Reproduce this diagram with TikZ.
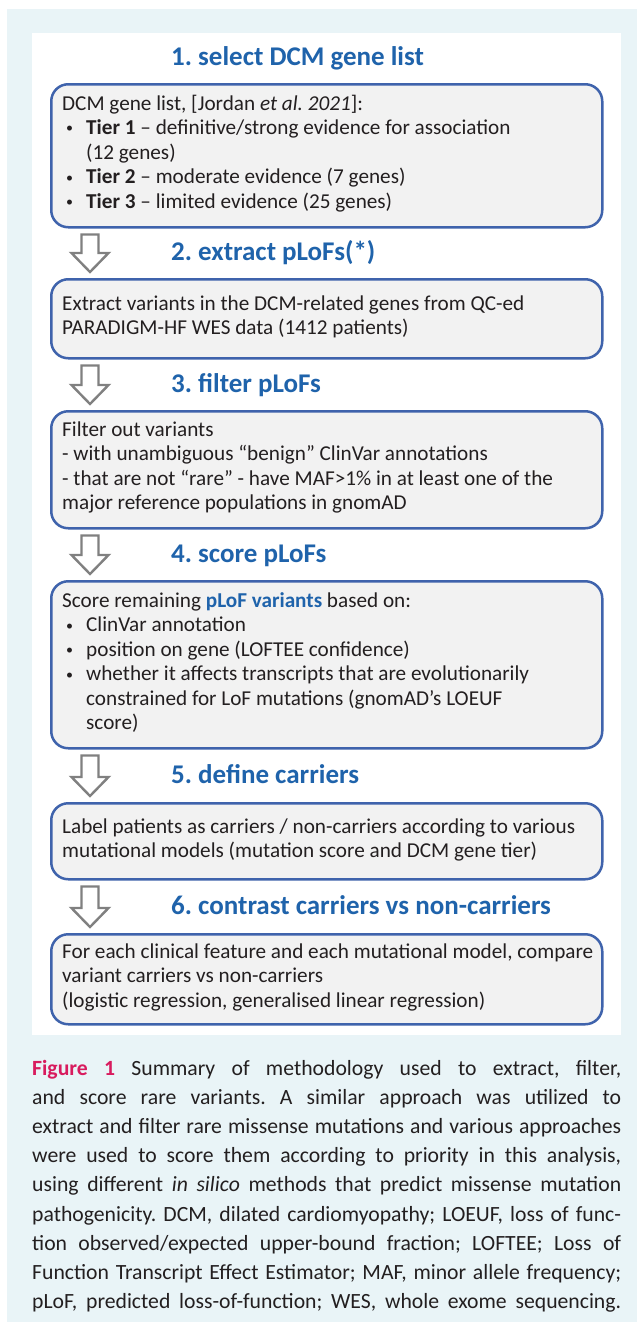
\documentclass[tikz,border=0pt]{standalone}
\usepackage{fontspec}
\setmainfont{Carlito}
\usetikzlibrary{calc}

\definecolor{panelbg}{HTML}{E9F4F7}
\definecolor{titleblue}{HTML}{1F63AB}
\definecolor{boxline}{HTML}{3F63AC}
\definecolor{boxfill}{HTML}{F2F2F2}
\definecolor{arrowgray}{HTML}{808080}
\definecolor{figpink}{HTML}{D81B5E}
\definecolor{inktext}{HTML}{231F20}

\frenchspacing
% body text of the step boxes
\newcommand\bodyfont{\fontsize{21.2}{24.5}\selectfont}
\newcommand\blt{\makebox[24pt][l]{\hspace{4pt}\raisebox{1.5pt}{\fontsize{14}{14}\selectfont •}}}
\newcommand\hangin{\hspace*{24pt}}
\newcommand\stepbody[1]{\parbox[t]{560pt}{\raggedright\bodyfont #1}}
% one fully justified caption line
\newcommand\capline[1]{\makebox[589pt][s]{#1}}
% hollow block arrow between two coordinates (top of shaft, tip)
\newcommand\blockdown[2]{%
  \draw[blockarrow] let \p1=(#1), \p2=(#2) in
    (\x1-8.5pt,\y1) -- (\x1+8.5pt,\y1) -- (\x1+8.5pt,\y2+19pt) --
    (\x1+18.5pt,\y2+19pt) -- (\x2,\y2) -- (\x1-18.5pt,\y2+19pt) --
    (\x1-8.5pt,\y2+19pt) -- cycle;}

\tikzset{
  stepbox/.style={draw=boxline, line width=2.5pt, fill=boxfill,
    rounded corners=17pt, inner sep=0pt, anchor=north west,
    minimum width=551pt},
  steptitle/.style={text=titleblue, font=\fontsize{27}{30}\selectfont\bfseries,
    anchor=base west, inner sep=0pt},
  steptext/.style={anchor=base west, inner sep=0pt, text=inktext},
  blockarrow/.style={draw=arrowgray, line width=2.4pt, fill=white,
    line join=miter},
}

\begin{document}
\begin{tikzpicture}[x=1pt, y=-1pt]
\useasboundingbox (0,0) rectangle (637,1322);

% backgrounds
\fill[white] (0,0) rectangle (637,1322);
\fill[panelbg] (7,9) rectangle (637,1322);
\fill[white] (32,33) rectangle (621,1035);

% step boxes
\node[stepbox, minimum height=143pt] (b1) at (50,83) {};
\node[stepbox, minimum height=79pt]  (b2) at (50,278) {};
\node[stepbox, minimum height=117pt] (b3) at (50,410) {};
\node[stepbox, minimum height=167pt] (b4) at (50,580) {};
\node[stepbox, minimum height=76pt]  (b5) at (50,802) {};
\node[stepbox, minimum height=90pt]  (b6) at (50,933) {};

% step titles
\node[steptitle] (h1) at (171,66)  {1. select DCM gene list};
\node[steptitle] (h2) at (171,260.5) {2. extract pLoFs(*)};
\node[steptitle] (h3) at (171,392) {3. filter pLoFs};
\node[steptitle] (h4) at (171,562) {4. score pLoFs};
\node[steptitle] (h5) at (171,783) {5. define carriers};
\node[steptitle] (h6) at (171,914) {6. contrast carriers vs non-carriers};

% step contents
\node[steptext] (t1) at (62,110) {\stepbody{%
  DCM gene list, [Jordan \textit{et al. 2021}]:\\
  \blt\textbf{Tier 1} – definitive/strong evidence for association\\
  \hangin(12 genes)\\
  \blt\textbf{Tier 2} – moderate evidence (7 genes)\\
  \blt\textbf{Tier 3} – limited evidence (25 genes)}};
\node[steptext] (t2) at (62,310) {\stepbody{%
  Extract variants in the DCM-related genes from QC-ed\\
  PARADIGM-HF WES data (1412 patients)}};
\node[steptext] (t3) at (62,436) {\stepbody{%
  Filter out variants\\
  - with unambiguous “benign” ClinVar annotations\\
  - that are not “rare” - have MAF>1\% in at least one of the\\
  major reference populations in gnomAD}};
\node[steptext] (t4) at (62,607) {\stepbody{%
  Score remaining {\color{titleblue}\bfseries pLoF variants} based on:\\
  \blt ClinVar annotation\\
  \blt position on gene (LOFTEE confidence)\\
  \blt whether it affects transcripts that are evolutionarily\\
  \hangin constrained for LoF mutations (gnomAD’s LOEUF\\
  \hangin score)}};
\node[steptext] (t5) at (62,833) {\stepbody{%
  Label patients as carriers / non-carriers according to various\\
  mutational models (mutation score and DCM gene tier)}};
\node[steptext] (t6) at (62,958) {\stepbody{%
  For each clinical feature and each mutational model, compare\\
  variant carriers vs non-carriers\\
  (logistic regression, generalised linear regression)}};

% arrows between consecutive boxes
\foreach \a/\b [count=\i] in {b1/b2, b2/b3, b3/b4, b4/b5, b5/b6} {
  \coordinate (top\i) at ($(\a.south west)+(40,6)$);
  \coordinate (tip\i) at ($(\b.north west)+(40,-6)$);
  \blockdown{top\i}{tip\i}
}

% caption
\node[anchor=base west, inner sep=0pt, text=inktext] (cap) at (32,1075) {%
  \parbox[t]{589pt}{\fontsize{21.7}{29.2}\selectfont
  \capline{{\color{figpink}\bfseries Figure 1} Summary of methodology used to extract, filter,}\\
  \capline{and score rare variants. A similar approach was utilized to}\\
  \capline{extract and filter rare missense mutations and various approaches}\\
  \capline{were used to score them according to priority in this analysis,}\\
  \capline{using different \textit{in silico} methods that predict missense mutation}\\
  \capline{pathogenicity. DCM, dilated cardiomyopathy; LOEUF, loss of func-}\\
  \capline{tion observed/expected upper-bound fraction; LOFTEE; Loss of}\\
  \capline{Function Transcript Effect Estimator; MAF, minor allele frequency;}\\
  \capline{pLoF, predicted loss-of-function; WES, whole exome sequencing.}}};
\end{tikzpicture}
\end{document}
